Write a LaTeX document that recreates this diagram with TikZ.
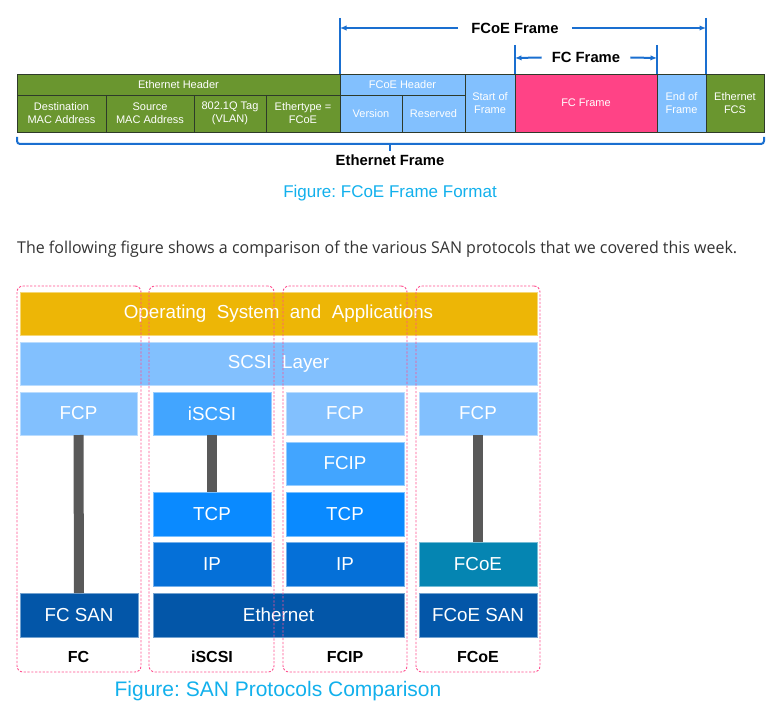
\documentclass[tikz,border=0pt]{standalone}
\usepackage{fontspec}
\setmainfont{Liberation Sans}
\newfontfamily\parafont{Open Sans}
\usetikzlibrary{arrows.meta}
\frenchspacing
\definecolor{egreen}{HTML}{6A962F}
\definecolor{lblue}{HTML}{82C0FE}
\definecolor{fpink}{HTML}{FF4386}
\definecolor{cellborder}{HTML}{2E3A2A}
\definecolor{dimblue}{HTML}{1A6FD0}
\definecolor{capcyan}{HTML}{12B0EC}
\definecolor{paragray}{HTML}{333333}
\definecolor{osyellow}{HTML}{EDB606}
\definecolor{midblue}{HTML}{42A5FF}
\definecolor{tcpblue}{HTML}{0A8AFF}
\definecolor{ipblue}{HTML}{0570D8}
\definecolor{darkblue}{HTML}{0356A8}
\definecolor{teal}{HTML}{0585B2}
\definecolor{barcol}{HTML}{595959}
\definecolor{dashpink}{HTML}{FF4F8F}
\newcommand\fcell[7]{\node[#6, anchor=north west, minimum width=#4pt-#2pt, minimum height=#5pt-#3pt] (#1) at (#2,#3) {#7};}
\begin{document}
\begin{tikzpicture}[x=1pt,y=-1pt,
  cell/.style={draw=cellborder, line width=0.8pt, inner sep=0pt, outer sep=0pt, text=white, align=center, font=\fontsize{11}{13}\selectfont},
  layer/.style={fill=#1, draw=#1!55!white, line width=0.6pt, inner sep=0pt, outer sep=0pt, text=white, font=\fontsize{18.8}{22}\selectfont},
  dashbox/.style={draw=dashpink, dash pattern=on 2.2pt off 1.6pt, line width=0.9pt, rounded corners=6pt, inner sep=0pt, outer sep=0pt},
  dimline/.style={draw=dimblue, line width=2pt},
  dimarrow/.style={draw=dimblue, line width=2pt, -{Latex[length=6.5pt,width=5.5pt]}},
  dimtext/.style={font=\bfseries\fontsize{14.8}{17}\selectfont, text=black},
  bar/.style={draw=barcol, line width=10pt},
  protolabel/.style={font=\bfseries\fontsize{16}{19}\selectfont, text=black},
  caption/.style={text=capcyan}
]
\useasboundingbox (0,0) rectangle (778,714);

% ---------- FCoE frame format ----------
\fcell{ethh}{17}{74}{340}{95}{cell, fill=egreen}{Ethernet Header}
\fcell{dst}{17}{95}{106}{132}{cell, fill=egreen}{Destination\\MAC Address}
\fcell{src}{106}{95}{194}{132}{cell, fill=egreen}{Source\\MAC Address}
\fcell{vlan}{194}{95}{266}{132}{cell, fill=egreen}{802.1Q Tag\\(VLAN)}
\fcell{etype}{266}{95}{340}{132}{cell, fill=egreen}{Ethertype =\\FCoE}
\fcell{fcoeh}{340}{74}{465}{95}{cell, fill=lblue}{FCoE Header}
\fcell{ver}{340}{95}{402}{132}{cell, fill=lblue}{Version}
\fcell{res}{402}{95}{465}{132}{cell, fill=lblue}{Reserved}
\fcell{sof}{465}{74}{515}{132}{cell, fill=lblue}{Start of\\Frame}
\fcell{fcf}{515}{74}{657}{132}{cell, fill=fpink}{FC Frame}
\fcell{eof}{657}{74}{706}{132}{cell, fill=lblue}{End of\\Frame}
\fcell{fcs}{706}{74}{764}{132}{cell, fill=egreen}{Ethernet\\FCS}

% FCoE Frame dimension
\coordinate (fa) at (340,18);
\coordinate (fb) at (706,18);
\coordinate (fal) at (340,28);
\coordinate (fbl) at (706,28);
\draw[dimline] (fa) -- (fcoeh.north west);
\draw[dimline] (fb) -- (fcs.north west);
\node[dimtext, inner xsep=13pt] (fcoet) at (515,28) {FCoE Frame};
\draw[dimarrow] (fcoet.west) -- (fal);
\draw[dimarrow] (fcoet.east) -- (fbl);

% FC Frame dimension
\coordinate (ca) at (515,45);
\coordinate (cb) at (657,45);
\coordinate (cal) at (515,58);
\coordinate (cbl) at (657,58);
\draw[dimline] (ca) -- (fcf.north west);
\draw[dimline] (cb) -- (fcf.north east);
\node[dimtext, inner xsep=10pt] (fct) at (586,57.5) {FC Frame};
\draw[dimarrow] (fct.west) -- (cal);
\draw[dimarrow] (fct.east) -- (cbl);

% Ethernet Frame bracket
\coordinate (ba) at (17,137);
\coordinate (bb) at (764,137);
\coordinate (btick) at (390,144);
\draw[dimline, rounded corners=3pt] (ba) -- (17,144) -- (764,144) -- (bb);
\node[dimtext] (ethf) at (390,160) {Ethernet Frame};
\draw[dimline] (btick) -- (ethf.north);

\node[caption, font=\fontsize{17}{20}\selectfont] (cap1) at (390,193) {Figure: FCoE Frame Format};

% ---------- paragraph ----------
\node[anchor=west, inner sep=0pt, text=paragray] (para) at (17,249) {\resizebox{720pt}{\height}{\parafont\fontsize{16.3}{19}\selectfont The following figure shows a comparison of the various SAN protocols that we covered this week.}};

% ---------- SAN protocols comparison ----------
\fcell{os}{20}{292}{537}{335}{layer=osyellow}{Operating\ \ System\ \ and\ \ Applications}
\fcell{scsi}{20}{342}{537}{385}{layer=lblue}{SCSI\ \ Layer}
\fcell{fcpa}{20}{392}{137}{435}{layer=lblue}{FCP}
\fcell{iscsi}{153}{392}{271}{435}{layer=midblue}{iSCSI}
\fcell{fcpc}{286}{392}{404}{435}{layer=lblue}{FCP}
\fcell{fcpd}{419}{392}{537}{435}{layer=lblue}{FCP}
\fcell{fcip}{286}{442}{404}{485}{layer=midblue}{FCIP}
\fcell{tcpb}{153}{492}{271}{536}{layer=tcpblue}{TCP}
\fcell{tcpc}{286}{492}{404}{536}{layer=tcpblue}{TCP}
\fcell{ipb}{153}{542}{271}{586}{layer=ipblue}{IP}
\fcell{ipc}{286}{542}{404}{586}{layer=ipblue}{IP}
\fcell{fcoe}{419}{542}{537}{586}{layer=teal}{FCoE}
\fcell{fcsan}{20}{593}{138}{637}{layer=darkblue}{FC SAN}
\fcell{eth}{153}{593}{404}{637}{layer=darkblue}{Ethernet}
\fcell{fcoesan}{419}{593}{537}{637}{layer=darkblue}{FCoE SAN}

\draw[bar] (fcpa.south) -- (fcsan.north);
\draw[bar] (iscsi.south) -- (tcpb.north);
\draw[bar] (fcpd.south) -- (fcoe.north);

\node[protolabel] (lfc) at (78.5,657) {FC};
\node[protolabel] (liscsi) at (212,657) {iSCSI};
\node[protolabel] (lfcip) at (345,657) {FCIP};
\node[protolabel] (lfcoe) at (478,657) {FCoE};

\fcell{dfc}{17}{286}{141}{672}{dashbox}{}
\fcell{discsi}{149}{286}{274}{672}{dashbox}{}
\fcell{dfcip}{283}{286}{407}{672}{dashbox}{}
\fcell{dfcoe}{416}{286}{540}{672}{dashbox}{}

\node[caption, font=\fontsize{21}{24}\selectfont] (cap2) at (278,691) {Figure: SAN Protocols Comparison};
\end{tikzpicture}
\end{document}
